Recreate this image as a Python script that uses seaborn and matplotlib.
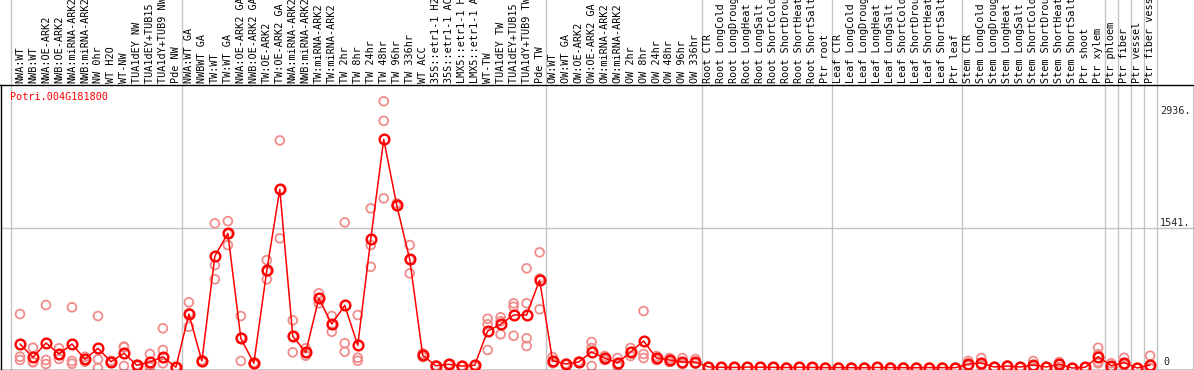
import pandas as pd
import seaborn as sns
import matplotlib.pyplot as plt
import matplotlib.transforms as mtransforms

sns.set_style('white')
plt.rcParams['font.family'] = ['DejaVu Sans Mono']

gene_name = 'Potri.004G181800'

sample_labels = [
    'NWA:WT', 'NWB:WT', 'NWA:OE-ARK2', 'NWB:OE-ARK2', 'NWA:miRNA-ARK2',
    'NWB:miRNA-ARK2', 'NW 0hr', 'WT H2O', 'WT-NW', 'TUA1dEY NW',
    'TUA1dEY+TUB15 NW', 'TUA1dY+TUB9 NW', 'Pde NW',
    'NWA:WT GA', 'NWBWT GA', 'TW:WT', 'TW:WT GA', 'NWA:OE-ARK2 GA',
    'NWB:OE-ARK2 GA', 'TW:OE-ARK2', 'TW:OE-ARK2 GA', 'NWA:miRNA-ARK2',
    'NWB:miRNA-ARK2', 'TW:miRNA-ARK2', 'TW:miRNA-ARK2', 'TW 2hr', 'TW 8hr',
    'TW 24hr', 'TW 48hr', 'TW 96hr', 'TW 336hr', 'WT ACC',
    '35S::etr1-1 H2O', '35S::etr1-1 ACC', 'LMX5::etr1-1 H2O',
    'LMX5::etr1-1 ACC', 'WT-TW', 'TUA1dEY TW', 'TUA1dEY+TUB15 TW',
    'TUA1dY+TUB9 TW', 'Pde TW',
    'OW:WT', 'OW:WT GA', 'OW:OE-ARK2', 'OW:OE-ARK2 GA', 'OW:miRNA-ARK2',
    'OW:miRNA-ARK2', 'OW 2hr', 'OW 8hr', 'OW 24hr', 'OW 48hr', 'OW 96hr',
    'OW 336hr',
    'Root CTR', 'Root LongCold', 'Root LongDrought', 'Root LongHeat',
    'Root LongSalt', 'Root ShortCold', 'Root ShortDrought',
    'Root ShortHeat', 'Root ShortSalt', 'Ptr root',
    'Leaf CTR', 'Leaf LongCold', 'Leaf LongDrought', 'Leaf LongHeat',
    'Leaf LongSalt', 'Leaf ShortCold', 'Leaf ShortDrought',
    'Leaf ShortHeat', 'Leaf ShortSalt', 'Ptr leaf',
    'Stem CTR', 'Stem LongCold', 'Stem LongDrought', 'Stem LongHeat',
    'Stem LongSalt', 'Stem ShortCold', 'Stem ShortDrought',
    'Stem ShortHeat', 'Stem ShortSalt', 'Ptr shoot',
    'Ptr xylem', 'Ptr phloem', 'Ptr fiber', 'Ptr vessel',
    'Ptr fiber vessel',
]

mean_expr = [
    264, 118, 275, 154, 264, 96, 217, 69, 162, 30, 66, 124, 8,
    594, 77, 1232, 1482, 327, 52, 1075, 1966, 349, 173, 767, 484, 690,
    250, 1416, 2516, 1793, 1196, 140, 25, 41, 22, 30, 407, 481, 583, 583,
    968,
    80, 44, 66, 176, 110, 55, 176, 297, 110, 88, 66, 66,
    11, 8, 6, 10, 9, 7, 5, 8, 6, 4,
    5, 4, 3, 6, 5, 4, 3, 5, 4, 3,
    44, 55, 11, 22, 11, 33, 11, 41, 0, 8,
    124, 25, 58, 0, 33,
]

rep_expr = [
    [594, 124, 88], [223, 69, 62], [693, 88, 44], [217, 99, 146],
    [668, 77, 47], [124, 69, 95], [572, 96, 0], [69, 58, 80],
    [228, 22, 236], [33, 22, 35], [154, 33, 11], [437, 198, 52], [5, 10, 9],
    [723, 454, 605], [66, 88, 77], [1592, 1133, 976], [1617, 1353, 1476],
    [572, 77, 332], [44, 60, 52], [1188, 976, 1061], [2505, 1427, 1966],
    [525, 173, 349], [217, 135, 167], [822, 712, 767], [572, 399, 481],
    [1603, 272, 179], [583, 113, 80], [1757, 1353, 1114],
    [2936, 2720, 1867], [1812, 1782, 1785], [1353, 1042, 1193],
    [121, 160, 140], [22, 28, 25], [38, 44, 41], [20, 24, 22],
    [28, 33, 30], [542, 481, 198], [558, 371, 514], [712, 674, 355],
    [1097, 712, 327, 242], [1273, 646, 985],
    [52, 121, 67], [40, 48, 44], [60, 72, 66], [286, 22, 220],
    [132, 88, 110], [110, 30, 25], [132, 220, 176], [627, 154, 110],
    [132, 88, 110], [66, 110, 88], [110, 44, 44], [99, 50, 49],
    [12, 10, 11], [9, 7, 8], [5, 7, 6], [11, 9, 10], [8, 10, 9],
    [6, 8, 7], [4, 6, 5], [7, 9, 8], [5, 7, 6], [3, 5, 4],
    [4, 6, 5], [3, 5, 4], [2, 4, 3], [5, 7, 6], [4, 6, 5], [3, 5, 4],
    [2, 4, 3], [4, 6, 5], [3, 5, 4], [2, 4, 3],
    [77, 30, 25], [110, 30, 25], [10, 12, 11], [30, 18, 18], [10, 12, 11],
    [77, 12, 10], [10, 12, 11], [44, 66, 13], [0, 1, 0], [8, 9, 7],
    [223, 52, 69, 152], [52, 12, 11], [113, 31, 30], [0, 1, 0],
    [135, 0, 0],
]

rep_df = pd.DataFrame(
    [(i, v) for i, reps in enumerate(rep_expr) for v in reps],
    columns=['sample', 'expression'])
mean_df = pd.DataFrame({'sample': range(len(mean_expr)),
                        'expression': mean_expr})

# pixel layout of the original picture
W, H = 1194, 370
x0_px, step_px = 20, 12.99
zero_px, val_per_px = 368, 1541 / 140
header_px = 85


def px_to_idx(p):
    return (p - x0_px) / step_px


def px_to_val(p):
    return (zero_px - p) * val_per_px


fig = plt.figure(figsize=(W / 100, H / 100), dpi=100)
left_px, right_px, bottom_px = 0.5, 1193.5, 369.5
ax = fig.add_axes([left_px / W, (H - bottom_px) / H,
                   (right_px - left_px) / W, (bottom_px - header_px) / H])
hax = fig.add_axes([0, (H - header_px) / H, 1, header_px / H])

ax.set_xlim(px_to_idx(left_px), px_to_idx(right_px))
ax.set_ylim(px_to_val(bottom_px), px_to_val(header_px))
hax.set_xlim(px_to_idx(0), px_to_idx(W))
hax.set_ylim(0, 1)

group_edges = [-0.7, 12.5, 40.5, 52.5, 62.5, 72.5, 83.5, 84.5, 85.5,
               86.5, 87.5]
grid_col = '#c4c4c4'
for e in group_edges:
    ax.axvline(e, color=grid_col, lw=1, zorder=0)
    hax.axvline(e, color=grid_col, lw=1, zorder=0)
ax.axhline(1541, color=grid_col, lw=1, zorder=0)

sns.scatterplot(data=rep_df, x='sample', y='expression', ax=ax,
                marker='o', s=40, color='#f08c8c', linewidth=1.3,
                legend=False, zorder=2)
ax.collections[-1].set_facecolor('none')
ax.collections[-1].set_edgecolor('#f08c8c')

sns.lineplot(data=mean_df, x='sample', y='expression', ax=ax,
             color='#ff0000', linewidth=1.1, marker='o', markersize=7,
             markerfacecolor='none', markeredgecolor='#ff0000',
             markeredgewidth=1.7, zorder=3)

for s in ['left', 'right', 'bottom', 'top']:
    ax.spines[s].set_visible(True)
    ax.spines[s].set_color('black')
    ax.spines[s].set_linewidth(1)
for s in hax.spines.values():
    s.set_visible(False)
for a in (ax, hax):
    a.set_xticks([])
    a.set_yticks([])
    a.set_xlabel('')
    a.set_ylabel('')
    a.patch.set_alpha(0)

fs = 7.3
for i, lab in enumerate(sample_labels):
    hax.text(i, 0.025, lab, rotation=90, ha='center', va='bottom',
             fontsize=fs, color='black', clip_on=True)

trans = mtransforms.blended_transform_factory(fig.transFigure, ax.transData)
ax.annotate('2936.', xy=(1160 / W, 2936), xycoords=trans, xytext=(0, -5),
            textcoords='offset pixels', va='top', ha='left', fontsize=fs)
ax.text(1160 / W, 1541, '1541.', transform=trans, va='bottom', ha='left',
        fontsize=fs)
ax.text(1163 / W, 15, '0', transform=trans, va='bottom', ha='left',
        fontsize=fs)

fig.text(10 / W, 1 - 97 / H, gene_name, color='#ff0000', va='center',
         ha='left', fontsize=fs)

fig.savefig('out.png', dpi=100)
